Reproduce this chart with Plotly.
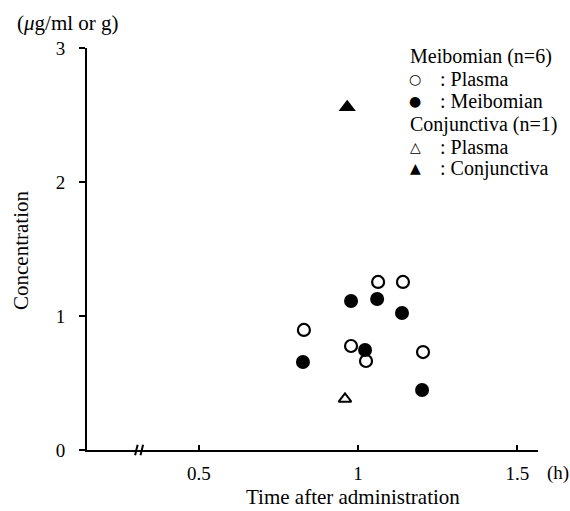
import plotly.graph_objects as go

# ---- data ----
meib_plasma_x = [0.830, 0.978, 1.025, 1.063, 1.141, 1.204]
meib_plasma_y = [0.896, 0.776, 0.664, 1.254, 1.254, 0.731]
meib_tissue_x = [0.827, 0.978, 1.022, 1.060, 1.138, 1.201]
meib_tissue_y = [0.657, 1.112, 0.746, 1.127, 1.022, 0.448]
conj_plasma_x = [0.959]
conj_plasma_y = [0.381]
conj_tissue_x = [0.966]
conj_tissue_y = [2.557]

x_tickvals = [0.5, 1, 1.5]
x_ticktext = ["0.5", "1", "1.5"]
y_tickvals = [0, 1, 2, 3]
y_ticktext = ["0", "1", "2", "3"]

W, H = 570, 511
ML, MR, MT, MB = 87, 32, 48, 61
PW, PH = W - ML - MR, H - MT - MB
SERIF = "Liberation Serif"
SYM = "DejaVu Sans"

def px(x):
    return (x - ML) / PW

def py(y):
    return (H - MB - y) / PH

fig = go.Figure()
fig.add_trace(go.Scatter(x=meib_plasma_x, y=meib_plasma_y, mode="markers",
                         marker=dict(symbol="circle-open", size=12, color="black",
                                     line=dict(width=2.2, color="black")),
                         cliponaxis=False, showlegend=False, hoverinfo="skip"))
fig.add_trace(go.Scatter(x=meib_tissue_x, y=meib_tissue_y, mode="markers",
                         marker=dict(symbol="circle", size=14, color="black"),
                         cliponaxis=False, showlegend=False, hoverinfo="skip"))
fig.add_trace(go.Scatter(x=conj_plasma_x, y=conj_plasma_y, mode="markers",
                         marker=dict(symbol="triangle-up-open", size=11, color="black",
                                     line=dict(width=2, color="black")),
                         cliponaxis=False, showlegend=False, hoverinfo="skip"))
fig.add_trace(go.Scatter(x=conj_tissue_x, y=conj_tissue_y, mode="markers",
                         marker=dict(symbol="triangle-up", size=15, color="black"),
                         cliponaxis=False, showlegend=False, hoverinfo="skip"))

annotations = []
def txt(text, x, y, size=19, xanchor="left", font=SERIF, **kw):
    annotations.append(dict(text=text, x=px(x), y=py(y), xref="paper", yref="paper",
                            xanchor=xanchor, yanchor="middle", showarrow=False,
                            font=dict(family=font, size=size, color="black"), **kw))

# axis titles and units
txt("(<i>μ</i>g/ml or g)", 68, 23, size=21, xanchor="center")
txt("(h)", 558, 473, xanchor="center")
txt("Time after administration", 353, 497, size=21, xanchor="center")
annotations.append(dict(text="Concentration", x=px(21), y=py(251), xref="paper", yref="paper",
                        xanchor="center", yanchor="middle", showarrow=False, textangle=-90,
                        font=dict(family=SERIF, size=21, color="black")))

# legend block
legend_rows = [
    (None, "Meibomian (n=6)", 57),
    ("○", ": Plasma", 79),
    ("●", ": Meibomian", 101),
    (None, "Conjunctiva (n=1)", 125),
    ("△", ": Plasma", 147),
    ("▲", ": Conjunctiva", 168),
]
for sym, label, yy in legend_rows:
    if sym is None:
        txt(label, 408, yy, size=20)
    else:
        txt(sym, 415, yy, size=14, xanchor="center", font=SYM)
        txt(label, 438, yy, size=20)

fig.update_layout(
    width=W, height=H,
    margin=dict(l=ML, r=MR, t=MT, b=MB, pad=0),
    paper_bgcolor="white", plot_bgcolor="white",
    annotations=annotations,
    hovermode=False,
    xaxis=dict(range=[0.149, 1.565], tickvals=x_tickvals, ticktext=x_ticktext,
               showgrid=False, zeroline=False, showline=True, linecolor="black",
               linewidth=2, ticks="inside", ticklen=5, tickwidth=2, tickcolor="black",
               ticklabelstandoff=5,
               tickfont=dict(family=SERIF, size=19, color="black")),
    yaxis=dict(range=[0, 3], tickvals=y_tickvals, ticktext=y_ticktext,
               showgrid=False, zeroline=False, showline=True, linecolor="black",
               linewidth=2, ticks="outside", ticklen=6, tickwidth=2, tickcolor="black",
               ticklabelstandoff=10,
               tickfont=dict(family=SERIF, size=19, color="black")),
    shapes=[
        dict(type="line", xref="x", yref="paper", x0=0.300, x1=0.308,
             y0=-0.013, y1=0.013, line=dict(color="black", width=2)),
        dict(type="line", xref="x", yref="paper", x0=0.317, x1=0.325,
             y0=-0.013, y1=0.013, line=dict(color="black", width=2)),
    ],
)

fig.write_html("out.html", config={"displayModeBar": False},
               post_script="document.body.style.margin='0';document.body.style.overflow='hidden';")
